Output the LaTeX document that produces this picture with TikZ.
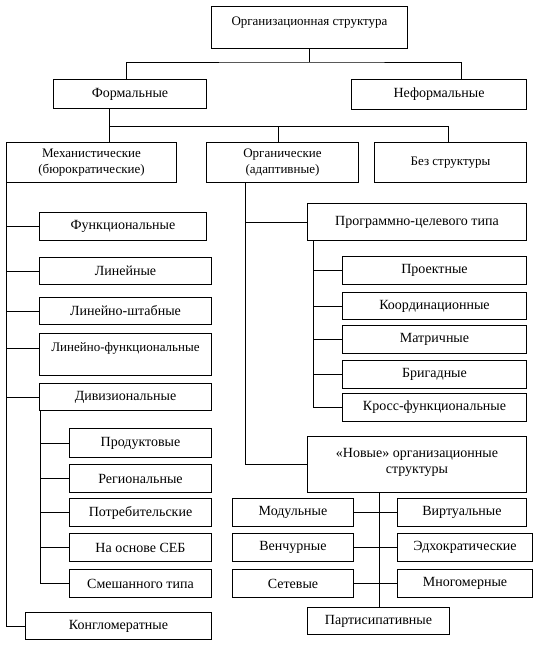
\documentclass[tikz,border=0pt]{standalone}
\usepackage{fontspec}
\setmainfont{Liberation Serif}
\usetikzlibrary{positioning}

\begin{document}
\begin{tikzpicture}[
    x=1pt, y=-1pt,
    box/.style={rectangle, draw=black, anchor=north west, inner sep=0pt,
                text centered, align=center, line width=1pt,
                font=\fontsize{14}{16}\selectfont},
    smallbox/.style={box, font=\fontsize{13}{15.5}\selectfont},
    wh/.style 2 args={minimum width=#1pt, minimum height=#2pt},
    link/.style={draw=black, line width=1pt}
]
    \useasboundingbox (0,0) rectangle (538,645);

    % top levels
    \node (root) [smallbox, wh={196}{42}] at (211,6) {Организационная структура\\[-3pt] \mbox{}};
    \node (formal) [box, wh={153}{29}] at (53,79) {Формальные};
    \node (informal) [box, wh={175}{30}] at (351,79) {Неформальные};
    \node (mech) [smallbox, wh={170}{40}] at (6,142) {Механистические\\(бюрократические)};
    \node (organic) [smallbox, wh={152}{40}] at (206,142) {Органические\\(адаптивные)};
    \node (nostruct) [smallbox, wh={152}{40}] at (374,142) {Без структуры};

    % mechanistic branch
    \node (func) [box, wh={167}{28}] at (39,212) {Функциональные};
    \node (lin) [box, wh={172}{27}] at (39,257) {Линейные};
    \node (linstaff) [box, wh={172}{27}] at (39,297) {Линейно-штабные};
    \node (linfunc) [smallbox, wh={172}{42}] at (39,333) {Линейно-функциональные\\ \mbox{}};
    \node (div) [box, wh={172}{27}] at (39,383) {Дивизиональные};
    \node (prod) [box, wh={142}{29}] at (69,428) {Продуктовые};
    \node (reg) [box, wh={142}{28}] at (69,464) {Региональные};
    \node (cons) [box, wh={142}{28}] at (69,498) {Потребительские};
    \node (seb) [box, wh={142}{28}] at (69,533) {На основе СЕБ};
    \node (mixed) [box, wh={142}{28}] at (69,569) {Смешанного типа};
    \node (conglo) [box, wh={186}{27}] at (25,612) {Конгломератные};

    % organic branch
    \node (prog) [box, wh={219}{37}] at (307,203) {Программно-целевого типа};
    \node (proj) [box, wh={184}{28}] at (342,256) {Проектные};
    \node (coord) [box, wh={184}{27}] at (342,292) {Координационные};
    \node (matrix) [box, wh={184}{28}] at (342,325) {Матричные};
    \node (brig) [box, wh={184}{28}] at (342,360) {Бригадные};
    \node (cross) [box, wh={184}{28}] at (342,393) {Кросс-функциональные};

    \node (new) [box, wh={219}{56}] at (307,436) {«Новые» организационные\\структуры\\[-8pt]\mbox{}};
    \node (modul) [box, wh={121}{28}] at (232,498) {Модульные};
    \node (virt) [box, wh={129}{28}] at (397,498) {Виртуальные};
    \node (vent) [box, wh={121}{28}] at (232,533) {Венчурные};
    \node (adhoc) [box, wh={135}{28}] at (397,533) {Эдхократические};
    \node (net) [box, wh={121}{28}] at (232,569) {Сетевые};
    \node (multi) [box, wh={135}{28}] at (397,569) {Многомерные};
    \node (partic) [box, wh={142}{27}] at (307,607) {Партисипативные};

    % connectors
    \draw [link] (root.south) -- ++(0,13) coordinate (bus1);
    \draw [link] ([xshift=-4pt]formal.north) |- (bus1) -| ([xshift=22pt]informal.north);
    \draw [link] ([xshift=-21pt]formal.south) -- ++(0,17) coordinate (bus2);
    \draw [link] (bus2) -- (mech.north -| bus2);
    \draw [link] (bus2) -| ([xshift=-4pt]organic.north);
    \draw [link] (bus2) -| ([xshift=-2pt]nostruct.north);

    \draw [link] (mech.south west) |- (conglo.west);
    \foreach \n in {func,lin,linstaff,div}
        \draw [link] (mech.south west |- \n.west) -- (\n.west);
    \draw [link] (mech.south west |- linfunc.west) ++(0,-6) -- ([yshift=6pt]linfunc.west);

    \draw [link] ([xshift=1pt]div.south west) coordinate (dspine) |- (mixed.west);
    \foreach \n in {prod,reg,cons,seb}
        \draw [link] (dspine |- \n.west) -- (\n.west);

    \draw [link] ([xshift=-37pt]organic.south) coordinate (ospine) |- (new.west);
    \draw [link] (ospine |- prog.west) -- (prog.west);

    \draw [link] ([xshift=6pt]prog.south west) coordinate (pspine) |- (cross.west);
    \foreach \n in {proj,coord,matrix,brig}
        \draw [link] (pspine |- \n.west) -- (\n.west);

    \draw [link] ([xshift=-38pt]new.south) coordinate (nspine) -- (nspine |- partic.north);
    \draw [link] (modul.east) -- (virt.west);
    \draw [link] (vent.east) -- (adhoc.west);
    \draw [link] (net.east) -- (multi.west);

\end{tikzpicture}
\end{document}
